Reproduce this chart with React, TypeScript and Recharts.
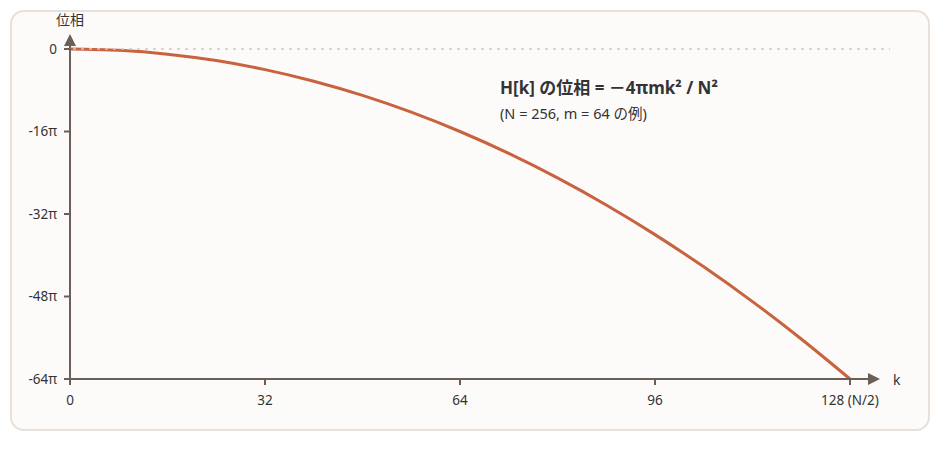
import { CartesianGrid, Line, LineChart, XAxis, YAxis } from "recharts";

// k (bin index) and phase of H[k] in units of π
const kValues = [0, 8, 16, 24, 32, 40, 48, 56, 64, 72, 80, 88, 96, 104, 112, 120, 128];
const phaseValues = [
  0, -0.25, -1, -2.25, -4, -6.25, -9, -12.25, -16, -20.25, -25, -30.25, -36,
  -42.25, -49, -56.25, -64,
];
const xTicks = [0, 32, 64, 96, 128];
const yTicks = [-64, -48, -32, -16, 0];

const data = kValues.map((k, i) => ({ k, phase: phaseValues[i] }));

const W = 940;
const H = 460;
const PLOT = { left: 70, right: 850, top: 49, bottom: 379 };
const Y_AXIS_W = 70;
const X_AXIS_H = 36;
const M = {
  top: PLOT.top,
  right: W - PLOT.right,
  bottom: H - PLOT.bottom - X_AXIS_H,
  left: PLOT.left - Y_AXIS_W,
};
const AXIS = "#6b5f57";
const CURVE = "#c8623f";
const TEXT = "#333333";
const FONT = "'Noto Sans', 'Noto Sans CJK JP', sans-serif";

function formatX(v: number): string {
  return v === 128 ? "128 (N/2)" : String(v);
}

function formatY(v: number): string {
  return v === 0 ? "0" : `${v}π`;
}

export default function App() {
  const { left: x0, right: xEnd, top: yTop, bottom: yBottom } = PLOT;

  return (
    <div style={{ position: "absolute", left: 0, top: 0, width: W, height: H, fontFamily: FONT }}>
      <div
        style={{
          position: "absolute",
          left: 10,
          top: 10,
          width: 920,
          height: 421,
          boxSizing: "border-box",
          border: "2px solid #e8e0d9",
          borderRadius: 14,
          background: "#fdfbfa",
        }}
      />
      <div style={{ position: "absolute", left: 0, top: 0 }}>
        <LineChart width={W} height={H} data={data} margin={M}>
          <CartesianGrid stroke="none" />
          <XAxis
            dataKey="k"
            type="number"
            domain={[0, 128]}
            ticks={xTicks}
            tickFormatter={formatX}
            stroke={AXIS}
            strokeWidth={2}
            tickSize={6}
            tickMargin={10}
            height={X_AXIS_H}
            tick={{ fill: TEXT, fontSize: 13.5, fontFamily: FONT }}
            interval={0}
          />
          <YAxis
            type="number"
            domain={[-64, 0]}
            ticks={yTicks}
            tickFormatter={formatY}
            stroke={AXIS}
            strokeWidth={2}
            tickSize={6}
            tickMargin={7}
            tick={{ fill: TEXT, fontSize: 13.5, fontFamily: FONT }}
            width={Y_AXIS_W}
            interval={0}
          />
          <Line
            dataKey="phase"
            type="monotone"
            stroke={CURVE}
            strokeWidth={3}
            dot={false}
            isAnimationActive={false}
          />
        </LineChart>
      </div>
      <svg
        width={W}
        height={H}
        style={{ position: "absolute", left: 0, top: 0, pointerEvents: "none" }}
      >
        <line x1={x0 + 3} y1={yTop} x2={890} y2={yTop} stroke="#cfc9c5" strokeWidth={1.5} strokeDasharray="3 5" />
        <line x1={x0} y1={yTop} x2={x0} y2={44} stroke={AXIS} strokeWidth={2} />
        <polygon points={`${x0 - 6},${46} ${x0 + 6},${46} ${x0},${34}`} fill={AXIS} />
        <line x1={xEnd} y1={yBottom} x2={870} y2={yBottom} stroke={AXIS} strokeWidth={2} />
        <polygon points={`${868},${yBottom - 6} ${868},${yBottom + 6} ${880},${yBottom}`} fill={AXIS} />
        <text x={x0} y={25} textAnchor="middle" fontSize={14} fill={TEXT} fontFamily={FONT}>
          位相
        </text>
        <text x={893} y={385} fontSize={14} fill={TEXT} fontFamily={FONT}>
          k
        </text>
        <text x={500} y={94} fontSize={17} fontWeight={700} fill={TEXT} fontFamily={FONT}>
          H[k] の位相 = －4πmk² / N²
        </text>
        <text x={500} y={119} fontSize={14.5} fill={TEXT} fontFamily={FONT}>
          (N = 256, m = 64 の例)
        </text>
      </svg>
    </div>
  );
}
